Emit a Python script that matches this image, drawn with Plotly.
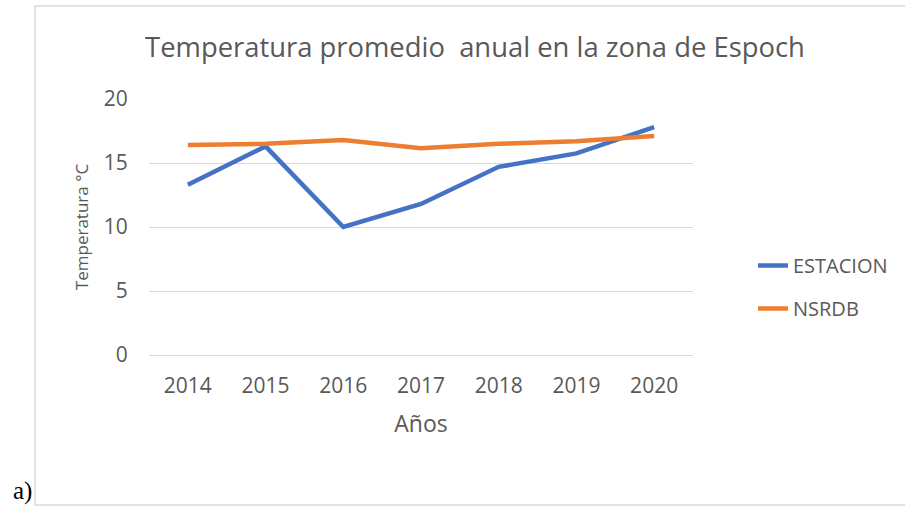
import plotly.graph_objects as go

years = ["2014", "2015", "2016", "2017", "2018", "2019", "2020"]
estacion = [13.3, 16.3, 10.0, 11.8, 14.7, 15.75, 17.8]
nsrdb = [16.4, 16.5, 16.8, 16.15, 16.5, 16.7, 17.1]
y_ticks = [0, 5, 10, 15, 20]

W, H = 905, 506
L, R, T, B = 149, 693, 99, 355
pw, ph = R - L, B - T

def px(x):
    return (x - L) / pw

def py(y):
    return (B - y) / ph

txt = "#595959"
fig = go.Figure()
fig.add_trace(go.Scatter(x=years, y=estacion, mode="lines", name="ESTACION",
                         line=dict(color="#4472C4", width=4.5), legendgroup="a"))
fig.add_trace(go.Scatter(x=years, y=nsrdb, mode="lines", name="NSRDB",
                         line=dict(color="#ED7D31", width=4.5), legendgroup="b"))

fig.update_layout(
    width=W, height=H,
    margin=dict(l=L, r=W - R, t=T, b=H - B, pad=0),
    paper_bgcolor="white", plot_bgcolor="white",
    font=dict(family="Open Sans", color=txt),
    title=dict(text="Temperatura promedio  anual en la zona de Espoch",
               font=dict(size=27.4, color=txt), x=475 / W, xanchor="center",
               y=1 - 47 / H, yanchor="middle"),
    xaxis=dict(type="category", range=[-0.5, len(years) - 0.5],
               showgrid=False, showline=False, zeroline=False,
               ticks="outside", ticklen=12, tickcolor="rgba(0,0,0,0)",
               tickfont=dict(size=21, color=txt),
               title=dict(text="Años", font=dict(size=23, color=txt), standoff=17)),
    yaxis=dict(range=[0, 20], tickvals=y_ticks, showgrid=True, gridcolor="#d9d9d9",
               gridwidth=1, zeroline=True, zerolinecolor="#d9d9d9", zerolinewidth=1,
               showline=False, ticks="outside", ticklen=16, tickcolor="rgba(0,0,0,0)",
               tickfont=dict(size=21, color=txt),
               title=dict(text="Temperatura °C", font=dict(size=17, color=txt), standoff=10)),
    legend=dict(x=px(753), xanchor="left", y=py(287), yanchor="middle",
                font=dict(size=20, color=txt), tracegroupgap=14,
                bgcolor="rgba(0,0,0,0)"),
    shapes=[dict(type="rect", xref="paper", yref="paper",
                 x0=px(35), x1=px(915), y0=py(505), y1=py(6),
                 line=dict(color="#d9d9d9", width=1.5), layer="below")],
    annotations=[dict(text="a)", xref="paper", yref="paper", x=px(22), y=py(491),
                      xanchor="center", yanchor="middle", showarrow=False,
                      font=dict(family="Liberation Serif", size=25, color="black"))],
)

fig.write_html("out.html", config={"displayModeBar": False},
               post_script="document.body.style.margin='0';")
